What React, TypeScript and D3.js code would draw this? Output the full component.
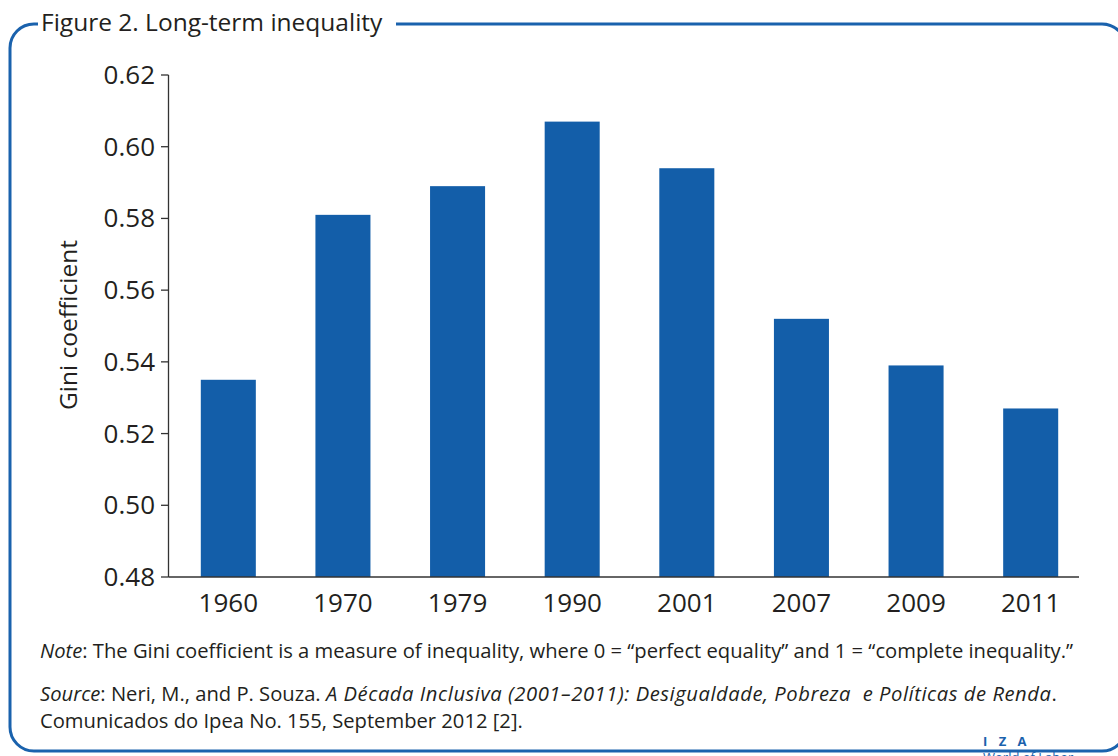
import React from "react";
import * as d3 from "d3";

const categories = ["1960", "1970", "1979", "1990", "2001", "2007", "2009", "2011"];
const giniValues = [0.535, 0.581, 0.589, 0.607, 0.594, 0.552, 0.539, 0.527];
const yTicks = [0.48, 0.5, 0.52, 0.54, 0.56, 0.58, 0.6, 0.62];

const W = 1118;
const H = 756;
const BLUE = "#135ea9";
const BORDER = "#1a62ad";
const TEXT = "#231f20";
const FONT = "'Open Sans', 'Liberation Sans', Arial, sans-serif";

export default function App() {
  const x = d3.scaleBand<string>().domain(categories).range([171, 1088]).paddingInner(0.52).paddingOuter(0.26);
  const y = d3.scaleLinear().domain([0.48, 0.62]).range([577, 75]);
  const axisLeft = 168.5;
  const axisRight = 1079;

  return (
    <svg width={W} height={H} viewBox={`0 0 ${W} ${H}`} style={{ position: "absolute", left: 0, top: 0, background: "#fff" }} fontFamily={FONT}>
      <rect x={0} y={0} width={W} height={H} fill="#fff" />
      {/* frame */}
      <rect x={10} y={24} width={1116} height={727} rx={24} ry={24} fill="none" stroke={BORDER} strokeWidth={3} />
      <rect x={38} y={10} width={358} height={30} fill="#fff" />
      <text x={41} y={31} fontSize={24.5} fill={TEXT}>Figure 2. Long-term inequality</text>

      {/* bars */}
      {categories.map((c, i) => (
        <rect key={c} x={x(c)} y={y(giniValues[i])} width={x.bandwidth()} height={y(0.48) - y(giniValues[i])} fill={BLUE} />
      ))}

      {/* y axis */}
      <line x1={axisLeft} x2={axisLeft} y1={y(0.62)} y2={y(0.48)} stroke="#333" strokeWidth={1.3} />
      {yTicks.map((t) => (
        <g key={t}>
          <line x1={161} x2={axisLeft} y1={y(t)} y2={y(t)} stroke="#333" strokeWidth={1.3} />
          <text x={155} y={y(t) + 9} textAnchor="end" fontSize={26} fill={TEXT}>{t.toFixed(2)}</text>
        </g>
      ))}
      {/* x axis */}
      <line x1={axisLeft} x2={axisRight} y1={y(0.48)} y2={y(0.48)} stroke="#333" strokeWidth={1.3} />
      {categories.map((c) => (
        <text key={c} x={(x(c) as number) + x.bandwidth() / 2} y={612} textAnchor="middle" fontSize={26} fill={TEXT}>{c}</text>
      ))}

      <text transform="translate(77,325) rotate(-90)" textAnchor="middle" fontSize={24.5} fill={TEXT}>Gini coefficient</text>

      {/* notes */}
      <text x={40} y={658} fontSize={20.2} fill={TEXT}>
        <tspan fontStyle="italic">Note</tspan>: The Gini coefficient is a measure of inequality, where 0 = “perfect equality” and 1 = “complete inequality.”
      </text>
      <text x={40} y={701} fontSize={20.2} fill={TEXT}>
        <tspan fontStyle="italic">Source</tspan>: Neri, M., and P. Souza. <tspan fontStyle="italic" letterSpacing={0.55}>A Década Inclusiva (2001–2011): Desigualdade, Pobreza{"\u00a0"} e Políticas de Renda</tspan>.
      </text>
      <text x={40} y={728} fontSize={20.2} fill={TEXT}>Comunicados do Ipea No. 155, September 2012 [2].</text>

      {/* logo */}
      <text x={983} y={746} fontSize={13} fontWeight="bold" fill={BORDER} letterSpacing={4}>I Z A</text>
      <text x={983} y={762} fontSize={13} fill={BORDER}>World of Labor</text>
    </svg>
  );
}
